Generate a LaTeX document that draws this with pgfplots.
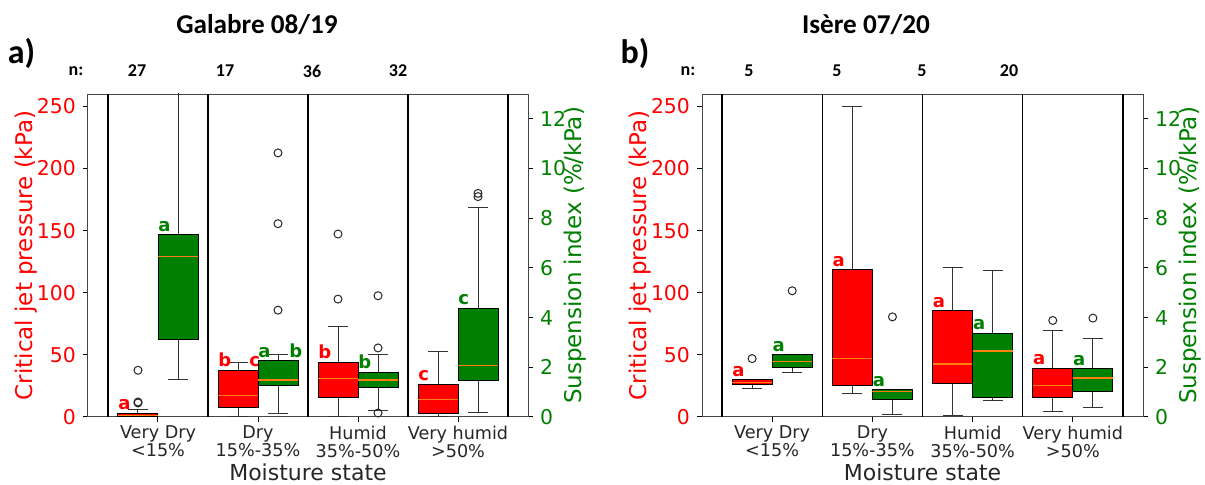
\documentclass[border=0pt]{standalone}
\usepackage{pgfplots}
\pgfplotsset{compat=1.18}
\usepgfplotslibrary{statistics}
\usepackage{fontspec}
\setmainfont{DejaVu Sans}
\newfontfamily\calfont{Carlito}
\definecolor{mred}{RGB}{255,0,0}
\definecolor{mgreen}{RGB}{0,128,0}
\definecolor{morange}{RGB}{255,127,14}
\definecolor{spine}{RGB}{70,70,70}

\tikzset{
  lr/.style={anchor=base west, inner sep=0pt, yshift=1.8pt, text=mred, font=\bfseries\fontsize{9}{9}\selectfont},
  lg/.style={anchor=base west, inner sep=0pt, yshift=1.8pt, text=mgreen, font=\bfseries\fontsize{9}{9}\selectfont},
}
\pgfplotsset{
  common/.style={
    scale only axis, width=220pt, height=161.5pt,
    xmin=0.3, xmax=4.7,
    /pgf/number format/assume math mode=true,
    tick align=outside, major tick length=2.5pt,
    every tick/.style={black, line width=0.5pt},
    axis line style={spine, line width=0.5pt},
    yticklabel style={font=\fontsize{10.2}{12}\selectfont},
  },
  leftax/.style={common,
    ymin=0, ymax=260, ytick={0,50,...,250},
    ytick pos=left, xtick pos=bottom,
    xtick={1,2,3,4},
    xticklabels={{Very Dry\\<15\%},{Dry\\15\%-35\%},{Humid\\35\%-50\%},{Very humid\\>50\%}},
    xticklabel style={align=center, font=\fontsize{8.8}{8.8}\selectfont, text=black!85, yshift=1.5pt},
    yticklabel style={text=mred},
    ylabel={Critical jet pressure (kPa)},
    ylabel style={font=\fontsize{11.5}{13}\selectfont, text=mred, at={(axis description cs:-0.14,0.5)}, anchor=center},
    xlabel={Moisture state},
    xlabel style={font=\fontsize{11}{13}\selectfont, text=black!85, inner sep=0pt, at={(axis description cs:0.5,-0.172)}, anchor=center},
    extra x ticks={0.5,1.5,2.5,3.5,4.5},
    extra x tick labels={},
    extra x tick style={grid=major, major tick length=0pt},
    major x grid style={black, line width=0.65pt},
  },
  rightax/.style={common,
    ymin=0, ymax=13, ytick={0,2,...,12},
    axis y line*=right, axis x line=none,
    yticklabel style={text=mgreen},
    ylabel={Suspension index (\%/kPa)},
    ylabel style={font=\fontsize{11.5}{13}\selectfont, text=mgreen, at={(axis description cs:1.107,0.5)}, anchor=center},
  },
  bx/.style={draw=black, line width=0.5pt, mark=o, mark size=2pt,
    mark options={draw=black!85, solid, fill=none},
    boxplot/draw direction=y,
    boxplot/box extend=0.4, boxplot/whisker extend=0.2,
    boxplot/every median/.style={draw=morange, line width=0.6pt},
    boxplot/every whisker/.style={draw=black!80}},
  rbx/.style={bx, fill=mred},
  gbx/.style={bx, fill=mgreen},
}

\begin{document}
\begin{tikzpicture}
% ---------------- Panel a ----------------
\begin{axis}[leftax, at={(44pt,-208.5pt)}, anchor=south west]
\addplot[rbx, boxplot prepared={draw position=0.8, lower whisker=0, lower quartile=0, median=1.3, upper quartile=3.2, upper whisker=5.9}]
  table[row sep=\\, y index=0]{data\\ 11.3\\ 12.1\\ 37.6\\};
\addplot[rbx, boxplot prepared={draw position=1.8, lower whisker=0.8, lower quartile=7.3, median=17.2, upper quartile=37.4, upper whisker=43.8}]
  coordinates {};
\addplot[rbx, boxplot prepared={draw position=2.8, lower whisker=0.3, lower quartile=15.6, median=30.9, upper quartile=43.8, upper whisker=72.8}]
  table[row sep=\\, y index=0]{data\\ 94.9\\ 147.3\\};
\addplot[rbx, boxplot prepared={draw position=3.8, lower whisker=0.3, lower quartile=2.7, median=14.2, upper quartile=26.1, upper whisker=52.4}]
  coordinates {};
\node[lr] at (axis cs:0.6,3.2) {a};
\node[lr] at (axis cs:1.6,37.4) {b};
\node[lr] at (axis cs:1.91,37.4) {c};
\node[lr] at (axis cs:2.6,43.8) {b};
\node[lr] at (axis cs:3.6,26.1) {c};
\end{axis}
\begin{axis}[rightax, at={(44pt,-208.5pt)}, anchor=south west]
\addplot[gbx, boxplot prepared={draw position=1.2, lower whisker=1.52, lower quartile=3.12, median=6.45, upper quartile=7.33, upper whisker=14}]
  coordinates {};
\addplot[gbx, boxplot prepared={draw position=2.2, lower whisker=0.15, lower quartile=1.28, median=1.49, upper quartile=2.26, upper whisker=2.53}]
  table[row sep=\\, y index=0]{data\\ 4.30\\ 7.78\\ 10.63\\};
\addplot[gbx, boxplot prepared={draw position=3.2, lower whisker=0.28, lower quartile=1.20, median=1.49, upper quartile=1.80, upper whisker=2.50}]
  table[row sep=\\, y index=0]{data\\ 0.16\\ 2.78\\ 4.88\\};
\addplot[gbx, boxplot prepared={draw position=4.2, lower whisker=0.19, lower quartile=1.45, median=2.08, upper quartile=4.37, upper whisker=8.45}]
  table[row sep=\\, y index=0]{data\\ 8.87\\ 9.0\\};
\node[lg] at (axis cs:1.0,7.33) {a};
\node[lg] at (axis cs:2.0,2.26) {a};
\node[lg] at (axis cs:2.31,2.26) {b};
\node[lg] at (axis cs:3.0,1.80) {b};
\node[lg] at (axis cs:4.0,4.37) {c};
\end{axis}
% ---------------- Panel b ----------------
\begin{axis}[leftax, width=220.5pt, at={(351pt,-208.5pt)}, anchor=south west]
\addplot[rbx, boxplot prepared={draw position=0.8, lower whisker=22.6, lower quartile=26.1, median=28.0, upper quartile=29.8, upper whisker=29.8}]
  table[row sep=\\, y index=0]{data\\ 47.0\\};
\addplot[rbx, boxplot prepared={draw position=1.8, lower whisker=18.8, lower quartile=25.5, median=47.0, upper quartile=118.5, upper whisker=250}]
  coordinates {};
\addplot[rbx, boxplot prepared={draw position=2.8, lower whisker=1.3, lower quartile=27.2, median=42.7, upper quartile=85.5, upper whisker=120.2}]
  coordinates {};
\addplot[rbx, boxplot prepared={draw position=3.8, lower whisker=4.6, lower quartile=15.3, median=25.5, upper quartile=39.2, upper whisker=69.9}]
  table[row sep=\\, y index=0]{data\\ 77.7\\};
\node[lr] at (axis cs:0.6,29.8) {a};
\node[lr] at (axis cs:1.6,118.5) {a};
\node[lr] at (axis cs:2.6,85.5) {a};
\node[lr] at (axis cs:3.6,39.2) {a};
\end{axis}
\begin{axis}[rightax, width=220.5pt, at={(351pt,-208.5pt)}, anchor=south west]
\addplot[gbx, boxplot prepared={draw position=1.2, lower whisker=1.79, lower quartile=1.98, median=2.24, upper quartile=2.50, upper whisker=2.50}]
  table[row sep=\\, y index=0]{data\\ 5.08\\};
\addplot[gbx, boxplot prepared={draw position=2.2, lower whisker=0.11, lower quartile=0.69, median=1.03, upper quartile=1.10, upper whisker=1.10}]
  table[row sep=\\, y index=0]{data\\ 4.03\\};
\addplot[gbx, boxplot prepared={draw position=3.2, lower whisker=0.65, lower quartile=0.77, median=2.66, upper quartile=3.36, upper whisker=5.90}]
  coordinates {};
\addplot[gbx, boxplot prepared={draw position=4.2, lower whisker=0.38, lower quartile=1.01, median=1.57, upper quartile=1.94, upper whisker=3.16}]
  table[row sep=\\, y index=0]{data\\ 3.98\\};
\node[lg] at (axis cs:1.0,2.50) {a};
\node[lg] at (axis cs:2.0,1.10) {a};
\node[lg] at (axis cs:3.0,3.36) {a};
\node[lg] at (axis cs:4.0,1.94) {a};
\end{axis}
% ---------------- Titles and counts ----------------
\begin{scope}[every node/.style={inner sep=0pt, text=black}]
\node[font=\calfont\bfseries\fontsize{13.6}{16}\selectfont] at (128.5pt,-12.5pt) {Galabre 08/19};
\node[font=\calfont\bfseries\fontsize{17}{20}\selectfont] at (10.75pt,-26.75pt) {a)};
\node[font=\calfont\bfseries\fontsize{9}{11}\selectfont] at (38pt,-35.5pt) {n:};
\node[font=\calfont\bfseries\fontsize{9}{11}\selectfont] at (68.5pt,-35.5pt) {27};
\node[font=\calfont\bfseries\fontsize{9}{11}\selectfont] at (112.5pt,-35.5pt) {17};
\node[font=\calfont\bfseries\fontsize{9}{11}\selectfont] at (156pt,-35.5pt) {36};
\node[font=\calfont\bfseries\fontsize{9}{11}\selectfont] at (199pt,-35.5pt) {32};
\node[font=\calfont\bfseries\fontsize{13.6}{16}\selectfont] at (433pt,-12.5pt) {Isère 07/20};
\node[font=\calfont\bfseries\fontsize{17}{20}\selectfont] at (317.5pt,-26.75pt) {b)};
\node[font=\calfont\bfseries\fontsize{9}{11}\selectfont] at (344pt,-35.5pt) {n:};
\node[font=\calfont\bfseries\fontsize{9}{11}\selectfont] at (374.5pt,-35.5pt) {5};
\node[font=\calfont\bfseries\fontsize{9}{11}\selectfont] at (418.5pt,-35.5pt) {5};
\node[font=\calfont\bfseries\fontsize{9}{11}\selectfont] at (461pt,-35.5pt) {5};
\node[font=\calfont\bfseries\fontsize{9}{11}\selectfont] at (504.5pt,-35.5pt) {20};
\end{scope}
\pgfresetboundingbox
\useasboundingbox (0pt,0pt) rectangle (602.5pt,-242.5pt);
\end{tikzpicture}
\end{document}
